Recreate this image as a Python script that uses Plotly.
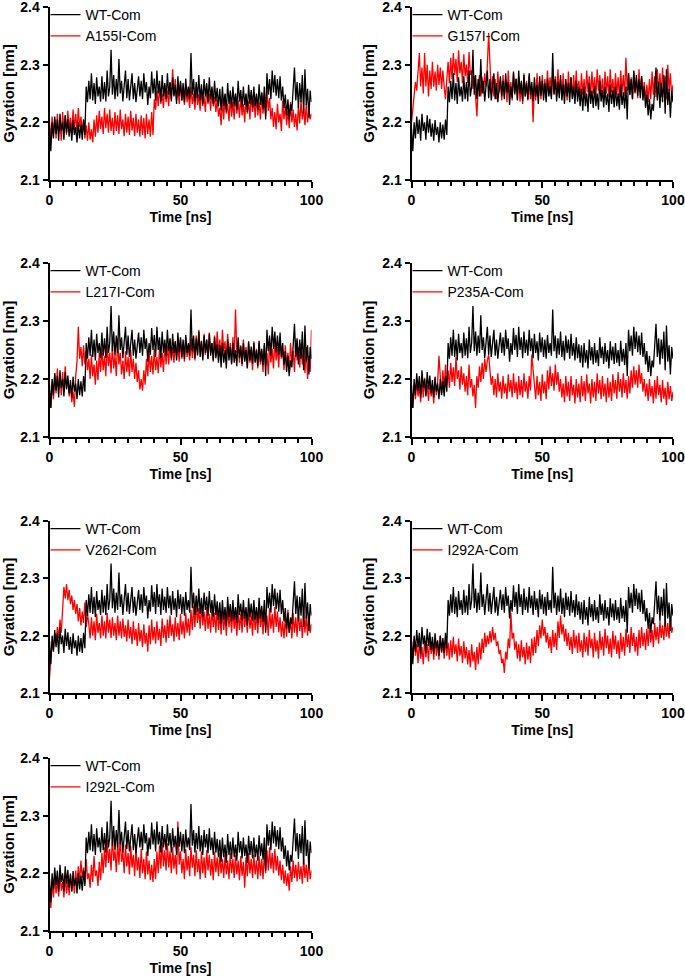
import plotly.graph_objects as go

# ---------------- data (Rg in nm, sampled every 0.5 ns) ----------------
time_ns = [i * 0.5 for i in range(201)]

wt_com = [
    2.190, 2.150, 2.200, 2.172, 2.210, 2.180, 2.205, 2.168, 2.215, 2.185,
    2.200, 2.170, 2.212, 2.182, 2.206, 2.175, 2.198, 2.168, 2.204, 2.178,
    2.192, 2.165, 2.200, 2.172, 2.196, 2.170, 2.205, 2.178, 2.262, 2.235,
    2.272, 2.240, 2.285, 2.238, 2.268, 2.232, 2.278, 2.245, 2.262, 2.236,
    2.280, 2.240, 2.270, 2.236, 2.290, 2.245, 2.262, 2.326, 2.248, 2.282,
    2.240, 2.275, 2.245, 2.310, 2.250, 2.272, 2.236, 2.268, 2.290, 2.242,
    2.275, 2.238, 2.270, 2.285, 2.240, 2.268, 2.235, 2.262, 2.280, 2.245,
    2.272, 2.240, 2.285, 2.252, 2.270, 2.230, 2.262, 2.242, 2.288, 2.250,
    2.276, 2.238, 2.290, 2.250, 2.272, 2.236, 2.282, 2.245, 2.268, 2.240,
    2.285, 2.248, 2.270, 2.236, 2.278, 2.245, 2.265, 2.232, 2.280, 2.246,
    2.272, 2.238, 2.268, 2.235, 2.276, 2.245, 2.262, 2.240, 2.320, 2.248,
    2.275, 2.236, 2.270, 2.242, 2.282, 2.238, 2.266, 2.232, 2.275, 2.245,
    2.268, 2.235, 2.278, 2.240, 2.262, 2.232, 2.272, 2.236, 2.260, 2.228,
    2.258, 2.220, 2.262, 2.228, 2.250, 2.218, 2.268, 2.232, 2.255, 2.225,
    2.262, 2.228, 2.250, 2.222, 2.272, 2.236, 2.256, 2.226, 2.262, 2.230,
    2.250, 2.218, 2.265, 2.232, 2.256, 2.226, 2.262, 2.228, 2.250, 2.222,
    2.266, 2.230, 2.252, 2.224, 2.262, 2.205, 2.285, 2.248, 2.275, 2.240,
    2.290, 2.252, 2.282, 2.246, 2.275, 2.242, 2.280, 2.238, 2.262, 2.225,
    2.248, 2.212, 2.240, 2.205, 2.232, 2.220, 2.262, 2.295, 2.238, 2.270,
    2.225, 2.268, 2.235, 2.282, 2.215, 2.292, 2.230, 2.258, 2.208, 2.255,
    2.235,
]

a155i_com = [
    2.200, 2.170, 2.210, 2.180, 2.205, 2.172, 2.215, 2.182, 2.200, 2.168,
    2.218, 2.185, 2.212, 2.178, 2.220, 2.190, 2.208, 2.182, 2.222, 2.188,
    2.215, 2.185, 2.225, 2.192, 2.210, 2.180, 2.205, 2.172, 2.195, 2.168,
    2.200, 2.170, 2.188, 2.165, 2.205, 2.175, 2.212, 2.182, 2.220, 2.188,
    2.210, 2.180, 2.225, 2.190, 2.215, 2.182, 2.222, 2.185, 2.208, 2.178,
    2.218, 2.185, 2.212, 2.180, 2.222, 2.188, 2.205, 2.176, 2.215, 2.182,
    2.210, 2.178, 2.220, 2.186, 2.208, 2.176, 2.215, 2.182, 2.205, 2.175,
    2.212, 2.178, 2.208, 2.172, 2.215, 2.180, 2.205, 2.175, 2.218, 2.178,
    2.240, 2.222, 2.255, 2.228, 2.262, 2.232, 2.250, 2.225, 2.265, 2.235,
    2.255, 2.228, 2.268, 2.240, 2.292, 2.248, 2.275, 2.238, 2.262, 2.232,
    2.270, 2.238, 2.258, 2.230, 2.265, 2.235, 2.252, 2.225, 2.262, 2.232,
    2.250, 2.222, 2.262, 2.230, 2.248, 2.220, 2.258, 2.228, 2.245, 2.218,
    2.262, 2.232, 2.250, 2.220, 2.258, 2.228, 2.245, 2.218, 2.240, 2.210,
    2.225, 2.195, 2.240, 2.205, 2.248, 2.215, 2.232, 2.202, 2.245, 2.210,
    2.235, 2.205, 2.250, 2.215, 2.238, 2.208, 2.245, 2.212, 2.232, 2.200,
    2.248, 2.215, 2.236, 2.205, 2.252, 2.218, 2.240, 2.208, 2.245, 2.212,
    2.235, 2.205, 2.250, 2.215, 2.240, 2.210, 2.255, 2.220, 2.242, 2.205,
    2.225, 2.192, 2.218, 2.188, 2.232, 2.200, 2.215, 2.185, 2.238, 2.205,
    2.228, 2.195, 2.220, 2.190, 2.235, 2.200, 2.222, 2.192, 2.215, 2.186,
    2.230, 2.198, 2.238, 2.205, 2.225, 2.195, 2.232, 2.200, 2.222, 2.205,
    2.215,
]

g157i_com = [
    2.200, 2.225, 2.248, 2.270, 2.255, 2.285, 2.320, 2.262, 2.295, 2.250,
    2.320, 2.262, 2.300, 2.245, 2.290, 2.258, 2.305, 2.262, 2.288, 2.255,
    2.300, 2.265, 2.295, 2.258, 2.290, 2.262, 2.240, 2.275, 2.305, 2.268,
    2.312, 2.275, 2.320, 2.282, 2.310, 2.270, 2.325, 2.285, 2.305, 2.268,
    2.318, 2.280, 2.300, 2.268, 2.322, 2.282, 2.290, 2.258, 2.280, 2.245,
    2.210, 2.262, 2.282, 2.245, 2.278, 2.250, 2.285, 2.262, 2.298, 2.355,
    2.285, 2.250, 2.280, 2.245, 2.275, 2.240, 2.288, 2.252, 2.272, 2.238,
    2.282, 2.245, 2.275, 2.235, 2.290, 2.250, 2.270, 2.238, 2.285, 2.248,
    2.275, 2.240, 2.280, 2.236, 2.268, 2.232, 2.285, 2.245, 2.272, 2.238,
    2.280, 2.240, 2.262, 2.200, 2.268, 2.238, 2.285, 2.245, 2.272, 2.240,
    2.282, 2.248, 2.275, 2.242, 2.290, 2.250, 2.278, 2.244, 2.285, 2.250,
    2.280, 2.246, 2.292, 2.252, 2.275, 2.240, 2.285, 2.248, 2.270, 2.238,
    2.288, 2.250, 2.278, 2.244, 2.282, 2.246, 2.290, 2.252, 2.272, 2.240,
    2.285, 2.248, 2.275, 2.240, 2.290, 2.252, 2.280, 2.245, 2.288, 2.250,
    2.278, 2.242, 2.292, 2.255, 2.282, 2.246, 2.276, 2.240, 2.288, 2.250,
    2.280, 2.244, 2.292, 2.252, 2.275, 2.240, 2.285, 2.248, 2.278, 2.242,
    2.290, 2.250, 2.282, 2.246, 2.312, 2.255, 2.285, 2.248, 2.278, 2.240,
    2.288, 2.250, 2.275, 2.242, 2.292, 2.252, 2.280, 2.245, 2.270, 2.238,
    2.265, 2.235, 2.275, 2.240, 2.288, 2.248, 2.280, 2.244, 2.292, 2.252,
    2.285, 2.245, 2.295, 2.250, 2.280, 2.240, 2.300, 2.255, 2.285, 2.245,
    2.265,
]

l217i_com = [
    2.180, 2.150, 2.195, 2.165, 2.210, 2.175, 2.218, 2.182, 2.205, 2.172,
    2.212, 2.178, 2.222, 2.185, 2.200, 2.170, 2.190, 2.160, 2.178, 2.152,
    2.205, 2.230, 2.290, 2.235, 2.255, 2.222, 2.258, 2.225, 2.248, 2.215,
    2.235, 2.200, 2.242, 2.205, 2.225, 2.190, 2.232, 2.198, 2.245, 2.212,
    2.252, 2.215, 2.240, 2.205, 2.262, 2.222, 2.245, 2.210, 2.258, 2.218,
    2.240, 2.205, 2.270, 2.225, 2.245, 2.208, 2.232, 2.200, 2.248, 2.212,
    2.238, 2.205, 2.250, 2.212, 2.235, 2.200, 2.228, 2.195, 2.215, 2.182,
    2.200, 2.180, 2.215, 2.190, 2.235, 2.205, 2.248, 2.212, 2.240, 2.208,
    2.252, 2.215, 2.238, 2.210, 2.255, 2.220, 2.245, 2.212, 2.262, 2.225,
    2.258, 2.225, 2.268, 2.232, 2.255, 2.228, 2.265, 2.235, 2.258, 2.230,
    2.268, 2.235, 2.260, 2.230, 2.272, 2.238, 2.258, 2.232, 2.270, 2.236,
    2.262, 2.232, 2.275, 2.240, 2.285, 2.245, 2.265, 2.235, 2.278, 2.242,
    2.268, 2.234, 2.280, 2.245, 2.262, 2.230, 2.275, 2.240, 2.282, 2.244,
    2.268, 2.232, 2.285, 2.248, 2.265, 2.230, 2.278, 2.240, 2.262, 2.228,
    2.272, 2.238, 2.320, 2.245, 2.265, 2.228, 2.258, 2.222, 2.268, 2.232,
    2.255, 2.220, 2.262, 2.228, 2.250, 2.215, 2.265, 2.230, 2.252, 2.218,
    2.262, 2.225, 2.248, 2.212, 2.258, 2.222, 2.245, 2.208, 2.262, 2.228,
    2.252, 2.218, 2.268, 2.232, 2.255, 2.220, 2.270, 2.235, 2.250, 2.215,
    2.258, 2.222, 2.245, 2.210, 2.262, 2.228, 2.248, 2.212, 2.268, 2.232,
    2.255, 2.220, 2.262, 2.225, 2.248, 2.210, 2.255, 2.200, 2.240, 2.212,
    2.285,
]

p235a_com = [
    2.175, 2.150, 2.190, 2.165, 2.200, 2.170, 2.188, 2.160, 2.195, 2.168,
    2.202, 2.172, 2.190, 2.162, 2.198, 2.170, 2.185, 2.158, 2.200, 2.172,
    2.195, 2.240, 2.205, 2.175, 2.215, 2.182, 2.225, 2.190, 2.215, 2.185,
    2.228, 2.195, 2.220, 2.188, 2.238, 2.200, 2.215, 2.182, 2.222, 2.190,
    2.210, 2.178, 2.205, 2.172, 2.225, 2.185, 2.200, 2.170, 2.190, 2.150,
    2.205, 2.185, 2.222, 2.195, 2.228, 2.200, 2.235, 2.212, 2.232, 2.242,
    2.215, 2.190, 2.205, 2.172, 2.200, 2.168, 2.210, 2.178, 2.195, 2.166,
    2.205, 2.175, 2.192, 2.165, 2.208, 2.178, 2.198, 2.168, 2.210, 2.176,
    2.195, 2.165, 2.205, 2.172, 2.198, 2.168, 2.210, 2.178, 2.196, 2.166,
    2.205, 2.180, 2.242, 2.210, 2.190, 2.165, 2.205, 2.172, 2.195, 2.162,
    2.208, 2.175, 2.196, 2.165, 2.215, 2.182, 2.222, 2.188, 2.210, 2.180,
    2.225, 2.190, 2.212, 2.178, 2.200, 2.168, 2.192, 2.160, 2.205, 2.170,
    2.195, 2.162, 2.205, 2.172, 2.190, 2.158, 2.200, 2.168, 2.192, 2.160,
    2.205, 2.170, 2.196, 2.162, 2.208, 2.175, 2.192, 2.158, 2.200, 2.168,
    2.195, 2.162, 2.210, 2.175, 2.198, 2.165, 2.205, 2.170, 2.192, 2.160,
    2.202, 2.168, 2.195, 2.162, 2.208, 2.175, 2.198, 2.166, 2.212, 2.178,
    2.200, 2.168, 2.210, 2.176, 2.198, 2.166, 2.205, 2.175, 2.215, 2.185,
    2.222, 2.190, 2.215, 2.185, 2.225, 2.192, 2.210, 2.178, 2.200, 2.170,
    2.192, 2.162, 2.200, 2.170, 2.188, 2.158, 2.198, 2.166, 2.205, 2.172,
    2.190, 2.160, 2.198, 2.166, 2.185, 2.155, 2.195, 2.165, 2.188, 2.162,
    2.178,
]

v262i_com = [
    2.125, 2.170, 2.190, 2.175, 2.205, 2.185, 2.215, 2.195, 2.228, 2.205,
    2.260, 2.285, 2.265, 2.290, 2.262, 2.280, 2.255, 2.270, 2.245, 2.262,
    2.238, 2.255, 2.225, 2.248, 2.218, 2.242, 2.222, 2.258, 2.215, 2.238,
    2.220, 2.195, 2.232, 2.200, 2.225, 2.192, 2.238, 2.205, 2.222, 2.195,
    2.235, 2.200, 2.225, 2.195, 2.240, 2.205, 2.228, 2.196, 2.232, 2.200,
    2.222, 2.192, 2.235, 2.200, 2.225, 2.195, 2.230, 2.198, 2.218, 2.190,
    2.228, 2.195, 2.215, 2.185, 2.225, 2.192, 2.212, 2.182, 2.222, 2.190,
    2.210, 2.180, 2.220, 2.186, 2.205, 2.172, 2.218, 2.185, 2.228, 2.192,
    2.215, 2.186, 2.225, 2.192, 2.212, 2.182, 2.230, 2.196, 2.218, 2.188,
    2.228, 2.196, 2.235, 2.200, 2.220, 2.190, 2.232, 2.198, 2.222, 2.192,
    2.238, 2.202, 2.225, 2.195, 2.240, 2.205, 2.230, 2.200, 2.245, 2.210,
    2.252, 2.215, 2.258, 2.222, 2.248, 2.212, 2.255, 2.218, 2.242, 2.208,
    2.250, 2.212, 2.238, 2.205, 2.248, 2.215, 2.240, 2.205, 2.250, 2.210,
    2.238, 2.202, 2.245, 2.210, 2.235, 2.200, 2.250, 2.215, 2.240, 2.205,
    2.248, 2.212, 2.235, 2.200, 2.245, 2.210, 2.238, 2.205, 2.250, 2.215,
    2.240, 2.205, 2.248, 2.212, 2.235, 2.200, 2.245, 2.210, 2.238, 2.204,
    2.250, 2.215, 2.238, 2.202, 2.245, 2.210, 2.235, 2.200, 2.248, 2.212,
    2.238, 2.205, 2.250, 2.215, 2.242, 2.206, 2.232, 2.198, 2.225, 2.195,
    2.232, 2.198, 2.245, 2.205, 2.228, 2.195, 2.240, 2.205, 2.232, 2.198,
    2.245, 2.208, 2.230, 2.196, 2.242, 2.205, 2.235, 2.200, 2.240, 2.205,
    2.220,
]

i292a_com = [
    2.190, 2.160, 2.195, 2.165, 2.185, 2.152, 2.190, 2.160, 2.180, 2.150,
    2.192, 2.162, 2.185, 2.155, 2.198, 2.168, 2.188, 2.158, 2.195, 2.165,
    2.186, 2.158, 2.200, 2.170, 2.190, 2.160, 2.195, 2.165, 2.188, 2.158,
    2.192, 2.162, 2.198, 2.168, 2.185, 2.155, 2.195, 2.165, 2.182, 2.152,
    2.190, 2.160, 2.180, 2.150, 2.175, 2.145, 2.185, 2.155, 2.172, 2.140,
    2.180, 2.150, 2.188, 2.158, 2.195, 2.170, 2.205, 2.180, 2.200, 2.185,
    2.208, 2.188, 2.215, 2.192, 2.205, 2.182, 2.190, 2.168, 2.175, 2.152,
    2.160, 2.135, 2.172, 2.158, 2.195, 2.178, 2.240, 2.195, 2.205, 2.175,
    2.190, 2.160, 2.185, 2.155, 2.192, 2.162, 2.180, 2.150, 2.188, 2.158,
    2.182, 2.152, 2.195, 2.165, 2.198, 2.170, 2.210, 2.182, 2.218, 2.195,
    2.228, 2.200, 2.215, 2.188, 2.205, 2.178, 2.198, 2.170, 2.210, 2.180,
    2.205, 2.175, 2.225, 2.196, 2.235, 2.202, 2.220, 2.190, 2.212, 2.182,
    2.205, 2.175, 2.198, 2.168, 2.210, 2.178, 2.200, 2.170, 2.205, 2.172,
    2.192, 2.162, 2.205, 2.172, 2.198, 2.165, 2.210, 2.178, 2.195, 2.162,
    2.205, 2.172, 2.192, 2.160, 2.208, 2.175, 2.198, 2.165, 2.212, 2.178,
    2.200, 2.168, 2.195, 2.162, 2.208, 2.176, 2.200, 2.168, 2.192, 2.160,
    2.205, 2.172, 2.198, 2.165, 2.212, 2.180, 2.202, 2.170, 2.215, 2.182,
    2.205, 2.172, 2.198, 2.165, 2.210, 2.178, 2.215, 2.182, 2.205, 2.175,
    2.212, 2.182, 2.220, 2.188, 2.210, 2.180, 2.222, 2.192, 2.215, 2.186,
    2.225, 2.196, 2.218, 2.192, 2.228, 2.198, 2.222, 2.195, 2.230, 2.205,
    2.215,
]

i292l_com = [
    2.170, 2.140, 2.185, 2.158, 2.195, 2.165, 2.188, 2.160, 2.200, 2.170,
    2.185, 2.158, 2.195, 2.165, 2.190, 2.162, 2.200, 2.170, 2.192, 2.165,
    2.205, 2.178, 2.212, 2.185, 2.222, 2.192, 2.210, 2.182, 2.225, 2.190,
    2.200, 2.175, 2.215, 2.185, 2.230, 2.195, 2.205, 2.178, 2.220, 2.188,
    2.235, 2.200, 2.245, 2.210, 2.258, 2.218, 2.242, 2.205, 2.265, 2.222,
    2.240, 2.202, 2.255, 2.215, 2.262, 2.220, 2.238, 2.200, 2.250, 2.212,
    2.235, 2.198, 2.248, 2.210, 2.232, 2.195, 2.245, 2.205, 2.228, 2.192,
    2.242, 2.200, 2.225, 2.190, 2.238, 2.198, 2.222, 2.188, 2.215, 2.185,
    2.225, 2.190, 2.238, 2.200, 2.248, 2.208, 2.255, 2.212, 2.240, 2.205,
    2.252, 2.210, 2.238, 2.200, 2.245, 2.208, 2.232, 2.198, 2.290, 2.215,
    2.238, 2.200, 2.225, 2.190, 2.242, 2.205, 2.230, 2.195, 2.245, 2.210,
    2.232, 2.195, 2.240, 2.202, 2.225, 2.190, 2.238, 2.200, 2.228, 2.192,
    2.240, 2.205, 2.232, 2.196, 2.225, 2.188, 2.238, 2.202, 2.228, 2.195,
    2.235, 2.200, 2.225, 2.192, 2.232, 2.198, 2.222, 2.190, 2.235, 2.200,
    2.225, 2.192, 2.232, 2.198, 2.222, 2.188, 2.230, 2.196, 2.220, 2.175,
    2.228, 2.195, 2.235, 2.200, 2.225, 2.192, 2.232, 2.198, 2.222, 2.190,
    2.230, 2.196, 2.225, 2.190, 2.235, 2.200, 2.240, 2.205, 2.245, 2.208,
    2.235, 2.200, 2.242, 2.205, 2.230, 2.196, 2.222, 2.188, 2.215, 2.182,
    2.205, 2.178, 2.200, 2.170, 2.212, 2.185, 2.222, 2.192, 2.215, 2.186,
    2.220, 2.190, 2.212, 2.182, 2.225, 2.192, 2.215, 2.185, 2.222, 2.190,
    2.205,
]

wt_label = "WT-Com"
mutant_labels = ["A155I-Com", "G157I-Com", "L217I-Com", "P235A-Com",
                 "V262I-Com", "I292A-Com", "I292L-Com"]
mutant_series = [a155i_com, g157i_com, l217i_com, p235a_com,
                 v262i_com, i292a_com, i292l_com]

x_ticks = [0, 50, 100]
y_ticks = [2.1, 2.2, 2.3, 2.4]

# ---------------- layout geometry (pixels) ----------------
W, H = 685, 978
col_l = [49.5, 411.5]
col_r = [311.5, 673.0]
row_t = [7.0, 263.0, 521.0, 758.0]
row_b = [180.0, 437.0, 693.0, 931.0]

FONT = "Liberation Sans, Arial, Helvetica, sans-serif"

fig = go.Figure()
layout = dict(
    width=W, height=H,
    margin=dict(l=0, r=0, t=0, b=0, autoexpand=False),
    paper_bgcolor="white", plot_bgcolor="white",
    font=dict(family=FONT, color="black"),
    showlegend=True,
)

for i, (lab, ser) in enumerate(zip(mutant_labels, mutant_series)):
    r, c = divmod(i, 2)
    k = i + 1
    xa = "x" if k == 1 else f"x{k}"
    ya = "y" if k == 1 else f"y{k}"
    lg = "legend" if k == 1 else f"legend{k}"

    fig.add_trace(go.Scatter(
        x=time_ns, y=ser, mode="lines", name=lab,
        line=dict(color="#ff0000", width=1.3),
        xaxis=xa, yaxis=ya, legend=lg, legendrank=2,
    ))
    fig.add_trace(go.Scatter(
        x=time_ns, y=wt_com, mode="lines", name=wt_label,
        line=dict(color="#000000", width=1.3),
        xaxis=xa, yaxis=ya, legend=lg, legendrank=1,
    ))

    xd = [col_l[c] / W, col_r[c] / W]
    yd = [1 - row_b[r] / H, 1 - row_t[r] / H]
    xkey = "xaxis" if k == 1 else f"xaxis{k}"
    ykey = "yaxis" if k == 1 else f"yaxis{k}"
    layout[xkey] = dict(
        domain=xd, anchor=ya, range=[0, 100], automargin=False,
        showline=True, linewidth=2, linecolor="black",
        showgrid=False, zeroline=False,
        ticks="outside", ticklen=6, tickwidth=2, tickcolor="black",
        tickvals=x_ticks, ticklabeloverflow="allow",
        tickfont=dict(family=FONT, size=14, weight="bold", color="black"),
        minor=dict(dtick=5, tick0=0, ticks="outside", ticklen=4,
                   tickwidth=1.5, tickcolor="black", showgrid=False),
        title=dict(text="Time [ns]", standoff=5,
                   font=dict(family=FONT, size=14, weight="bold", color="black")),
    )
    layout[ykey] = dict(
        domain=yd, anchor=xa, range=[2.1, 2.4], automargin=False,
        showline=True, linewidth=2, linecolor="black",
        showgrid=False, zeroline=False,
        ticks="outside", ticklen=5, tickwidth=2, tickcolor="black",
        tickvals=y_ticks, tickformat=".1f", ticklabeloverflow="allow",
        tickfont=dict(family=FONT, size=14, weight="bold", color="black"),
        title=dict(text="Gyration [nm]", standoff=4,
                   font=dict(family=FONT, size=15, weight="bold", color="black")),
    )
    layout[lg] = dict(
        x=(col_l[c] - 4) / W, y=1 - (row_t[r] - 8) / H,
        xanchor="left", yanchor="top",
        bgcolor="rgba(0,0,0,0)", borderwidth=0,
        font=dict(family=FONT, size=14, color="black"),
        tracegroupgap=0, itemwidth=30,
    )

fig.update_layout(**layout)
fig.write_html(
    "out.html",
    config={"displayModeBar": False},
    post_script="document.body.style.margin='0';document.body.style.padding='0';",
)
